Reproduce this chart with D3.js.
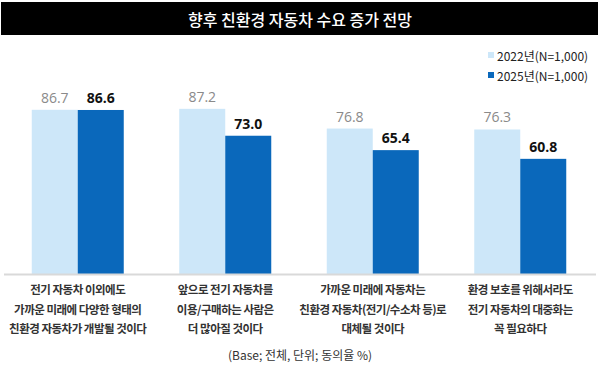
<!DOCTYPE html>
<html><head><meta charset="utf-8">
<script src="https://cdn.jsdelivr.net/npm/d3@7"></script>
<style>
body{margin:0;background:#fff;}
svg{display:block;font-family:"Noto Sans CJK KR","Noto Sans",sans-serif;}
</style></head>
<body><svg id="c" width="600" height="378"></svg>
<script>
const title = "향후 친환경 자동차 수요 증가 전망";
const categories = [
  ["전기 자동차 이외에도","가까운 미래에 다양한 형태의","친환경 자동차가 개발될 것이다"],
  ["앞으로 전기 자동차를","이용/구매하는 사람은","더 많아질 것이다"],
  ["가까운 미래에 자동차는","친환경 자동차(전기/수소차 등)로","대체될 것이다"],
  ["환경 보호를 위해서라도","전기 자동차의 대중화는","꼭 필요하다"]
];
const seriesNames = ["2022년(N=1,000)","2025년(N=1,000)"];
const values2022 = [86.7, 87.2, 76.8, 76.3];
const values2025 = [86.6, 73.0, 65.4, 60.8];
const footnote = "(Base; 전체, 단위; 동의율 %)";

const colors = ["#cde7f9","#0a68bb"];
const svg = d3.select("#c");

// title bar
svg.append("rect").attr("x",1).attr("y",2).attr("width",597).attr("height",33).attr("fill","#000");
svg.append("text").attr("x",300).attr("y",19).attr("text-anchor","middle").attr("dominant-baseline","central")
  .attr("fill","#fff").attr("font-size",16).attr("font-weight",500).text(title);

const x = d3.scaleBand().domain(d3.range(categories.length)).range([4,594]);
const inner = d3.scaleBand().domain([0,1]).range([x.bandwidth()/2-46, x.bandwidth()/2+46]);
const y = d3.scaleLinear().domain([0,100]).range([274,84.6]);

const data = [values2022, values2025];
const g = svg.append("g");
data.forEach((vals,si)=>{
  g.selectAll(".b"+si).data(vals).enter().append("rect")
    .attr("x",(d,i)=>x(i)+inner(si)).attr("width",inner.bandwidth())
    .attr("y",d=>y(d)).attr("height",d=>y(0)-y(d)).attr("fill",colors[si]);
  g.selectAll(".l"+si).data(vals).enter().append("text")
    .attr("x",(d,i)=>x(i)+inner(si)+inner.bandwidth()/2).attr("y",d=>y(d)-7)
    .attr("text-anchor","middle").attr("font-family","'Open Sans',sans-serif")
    .attr("font-size",14).attr("font-weight",si?700:400).attr("fill",si?"#111":"#8a8a8a")
    .text(d=>d.toFixed(1));
});

// baseline
svg.append("line").attr("x1",4).attr("x2",596).attr("y1",274.5).attr("y2",274.5)
  .attr("stroke","#d9d9d9").attr("stroke-width",2);

// category labels
categories.forEach((lines,i)=>{
  const t = svg.append("text").attr("text-anchor","middle").attr("font-size",11.5).attr("letter-spacing",-0.5)
    .attr("font-weight",700).attr("fill","#333");
  lines.forEach((ln,j)=>t.append("tspan").attr("x",x(i)+x.bandwidth()/2).attr("y",294+j*19.5).text(ln));
});

// legend
seriesNames.forEach((n,i)=>{
  const ly = 55+i*20;
  svg.append("rect").attr("x",488).attr("y",ly-3).attr("width",6).attr("height",6).attr("fill",colors[i]);
  svg.append("text").attr("x",497).attr("y",ly).attr("dominant-baseline","central").attr("font-size",12).attr("fill","#222").text(n);
});

svg.append("text").attr("x",300).attr("y",360).attr("text-anchor","middle").attr("font-size",12).attr("fill","#333").text(footnote);
</script></body></html>
